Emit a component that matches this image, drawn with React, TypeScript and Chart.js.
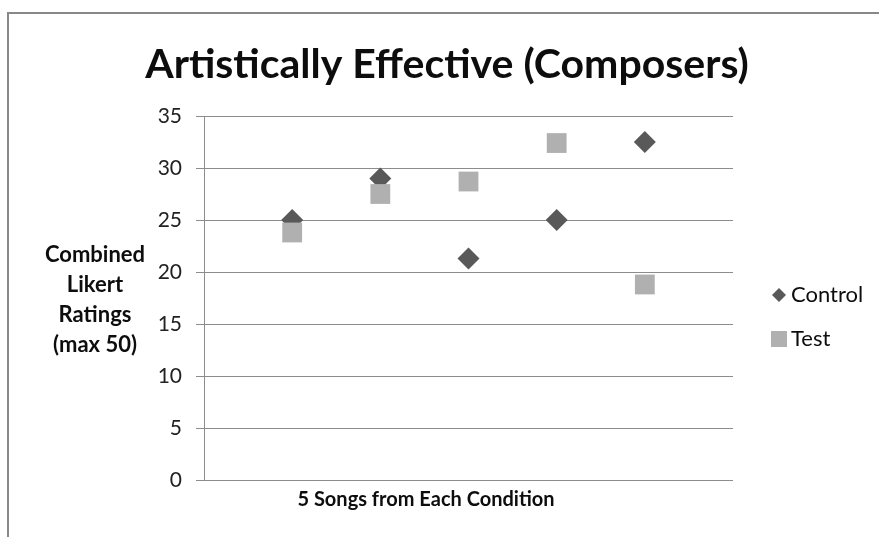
import { useEffect, useRef } from "react";
import { Chart, registerables } from "chart.js";

Chart.register(...registerables);

// Ratings per song (1..5) for each condition
const songNumbers = [1, 2, 3, 4, 5];
const controlRatings = [25, 29, 21.3, 25, 32.5];
const testRatings = [23.8, 27.5, 28.7, 32.4, 18.8];

const chartTitle = "Artistically Effective (Composers)";
const yTitleLines = ["Combined", "Likert", "Ratings", "(max 50)"];
const xTitle = "5 Songs from Each Condition";
const seriesNames = ["Control", "Test"];

const FONT = "Lato, 'Open Sans', sans-serif";
const CONTROL_COLOR = "#595959";
const TEST_COLOR = "#b0b0b0";
const GRID_COLOR = "#8c8c8c";
const TEXT_COLOR = "#0d0d0d";

const decorations = {
  id: "decorations",
  beforeDraw(chart: Chart) {
    const { ctx, width, height } = chart;
    ctx.save();
    ctx.fillStyle = "#ffffff";
    ctx.fillRect(0, 0, width, height);
    // outer frame (top and left edges)
    ctx.strokeStyle = "#888888";
    ctx.lineWidth = 2;
    ctx.beginPath();
    ctx.moveTo(8, height);
    ctx.lineTo(8, 13);
    ctx.lineTo(width, 13);
    ctx.stroke();
    ctx.restore();
  },
  afterDraw(chart: Chart) {
    const { ctx } = chart;
    ctx.save();
    ctx.fillStyle = TEXT_COLOR;

    // main title
    ctx.font = `bold 41px ${FONT}`;
    ctx.textAlign = "center";
    ctx.textBaseline = "alphabetic";
    ctx.fillText(chartTitle, 447, 78);

    // horizontal y-axis title
    ctx.font = `bold 22px ${FONT}`;
    ctx.textBaseline = "middle";
    yTitleLines.forEach((line, i) => {
      ctx.fillText(line, 95, 255 + i * 30);
    });

    // x-axis title
    ctx.font = `bold 20px ${FONT}`;
    ctx.fillText(xTitle, 426, 500);

    // legend
    ctx.textAlign = "left";
    ctx.font = `22px ${FONT}`;
    const legendY = [295, 339];
    // diamond
    ctx.fillStyle = CONTROL_COLOR;
    ctx.beginPath();
    ctx.moveTo(779 - 7, legendY[0]);
    ctx.lineTo(779, legendY[0] - 7);
    ctx.lineTo(779 + 7, legendY[0]);
    ctx.lineTo(779, legendY[0] + 7);
    ctx.closePath();
    ctx.fill();
    // square
    ctx.fillStyle = TEST_COLOR;
    ctx.fillRect(771, legendY[1] - 8, 16, 16);

    ctx.fillStyle = TEXT_COLOR;
    seriesNames.forEach((name, i) => {
      ctx.fillText(name, 791, legendY[i]);
    });
    ctx.restore();
  },
};

export default function App() {
  const canvasRef = useRef<HTMLCanvasElement | null>(null);

  useEffect(() => {
    const canvas = canvasRef.current;
    if (!canvas) return;
    const chart = new Chart(canvas, {
      type: "scatter",
      data: {
        datasets: [
          {
            label: seriesNames[0],
            data: songNumbers.map((x, i) => ({ x, y: controlRatings[i] })),
            pointStyle: "rectRot",
            pointRadius: 11,
            pointBackgroundColor: CONTROL_COLOR,
            pointBorderColor: CONTROL_COLOR,
            pointBorderWidth: 0,
            order: 1,
          },
          {
            label: seriesNames[1],
            data: songNumbers.map((x, i) => ({ x, y: testRatings[i] })),
            pointStyle: "rect",
            pointRadius: 14,
            pointBackgroundColor: TEST_COLOR,
            pointBorderColor: TEST_COLOR,
            pointBorderWidth: 0,
            order: 0,
          },
        ],
      },
      options: {
        animation: false,
        responsive: true,
        maintainAspectRatio: false,
        layout: { padding: { top: 116, bottom: 57, right: 146, left: 144 } },
        plugins: {
          legend: { display: false },
          title: { display: false },
          tooltip: { enabled: false },
        },
        scales: {
          x: { type: "linear", min: 0, max: 6, display: false },
          y: {
            min: 0,
            max: 35,
            afterFit: (scale: any) => {
              scale.width = 60;
            },
            ticks: {
              stepSize: 5,
              color: "#222222",
              font: { family: FONT, size: 21 },
              padding: 14,
            },
            grid: {
              color: GRID_COLOR,
              lineWidth: 1,
              tickLength: 8,
              drawTicks: true,
            },
            border: { display: true, color: GRID_COLOR, width: 1 },
          },
        },
      },
      plugins: [decorations],
    });
    return () => chart.destroy();
  }, []);

  return (
    <div style={{ position: "fixed", left: 0, top: 0, width: 879, height: 537 }}>
      <canvas ref={canvasRef} />
    </div>
  );
}
